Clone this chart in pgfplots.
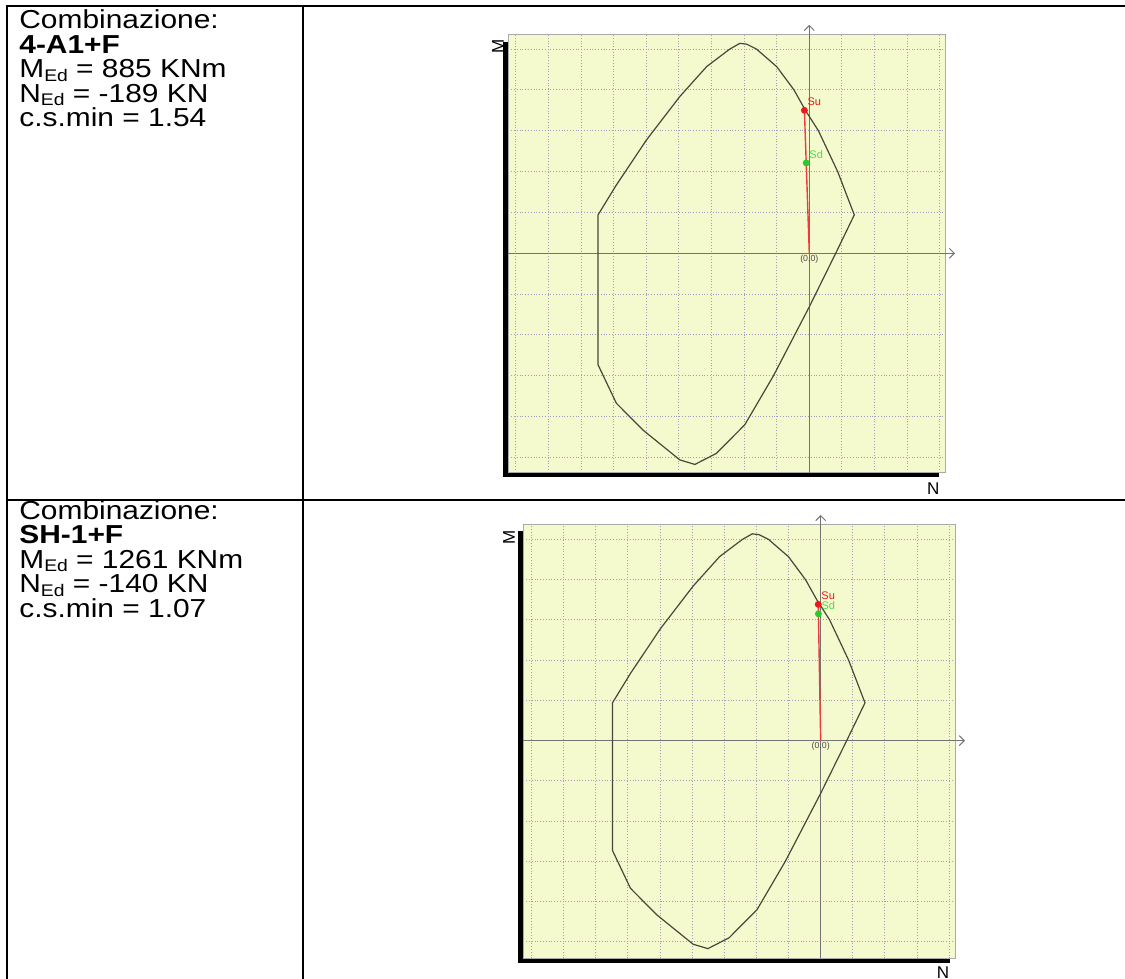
\documentclass[border=0pt]{standalone}
\usepackage{fontspec}
\setmainfont{Liberation Sans}
\newfontfamily\cellfont[FakeStretch=1.15]{Liberation Sans}
\usepackage{pgfplots}
\pgfplotsset{compat=1.18}
\usepackage{pgfplotstable}
\usetikzlibrary{arrows.meta}

\definecolor{panel}{RGB}{245,249,206}
\definecolor{gridc}{RGB}{158,158,190}
\definecolor{framec}{RGB}{170,170,170}
\definecolor{axisc}{RGB}{115,115,115}
\definecolor{outline}{RGB}{72,72,58}
\definecolor{su}{RGB}{235,25,25}
\definecolor{sd}{RGB}{45,200,45}
\definecolor{sdtext}{RGB}{70,225,70}

% Interaction domain of the section (N in kN, M in kNm)
\pgfplotstableread{
N M
-12960 376
-11840 668
-9980 1112
-7940 1536
-6300 1828
-4880 2000
-4260 2056
-3840 2048
-3240 2000
-2000 1828
-940 1600
-240 1400
560 1200
1740 800
2760 376
1620 0
0 -524
-2200 -1200
-3960 -1680
-5700 -1960
-7020 -2068
-7940 -2024
-10200 -1732
-11840 -1468
-12960 -1092
-12960 376
}\domain

\newcommand\sub[1]{\raisebox{-0.12em}{\fontsize{8.4pt}{9pt}\selectfont #1}}

\pgfplotsset{
  mdplot/.style={
    anchor=south west, scale only axis, clip=false,
    xtick={-18000,-16000,...,8000}, ytick={-2000,-1600,...,2000},
    scaled x ticks=false, scaled y ticks=false,
    xticklabels={}, yticklabels={}, major tick length=0pt,
    grid=major, grid style={gridc, densely dotted, line width=0.5pt},
    axis background/.style={fill=panel},
    axis line style={framec, line width=0.5pt},
  },
  domline/.style={outline, line width=0.6pt, mark=none},
  sline/.style={su!85, line width=0.7pt, mark=none},
  spt/.style={only marks, mark=*, mark size=1.5pt, mark options={draw=#1, fill=#1}},
  slabel/.style={nodes near coords={#1},
    every node near coord/.append style={anchor=south west, inner sep=0pt,
      xshift=1.4pt, yshift=2pt, font=\fontsize{5.5pt}{6pt}\selectfont}},
}

\tikzset{
  axarrow/.style={axisc, line width=0.5pt, -{Straight Barb[length=2.5pt,width=5pt]}},
  txt/.style={anchor=base west, inner sep=0pt, font=\cellfont\fontsize{13pt}{15pt}\selectfont},
  lbl/.style={font=\fontsize{8.5pt}{9pt}\selectfont, inner sep=0pt},
  orig/.style={anchor=north, inner sep=0.6pt, text=black!70, font=\fontsize{4.4pt}{5pt}\selectfont},
}

\begin{document}
\begin{tikzpicture}
% table, text and frame decorations, measured in half points
\begin{scope}[x=0.5pt,y=0.5pt]
\draw[line width=1pt] (6.5,0) -- (6.5,973) -- (1125,973);
\draw[line width=1pt] (302.7,0) -- (302.7,973);
\draw[line width=1pt] (6.5,479) -- (1125,479);

\node[txt] at (19,950) {Combinazione:};
\node[txt] at (19,925.5) {\textbf{4-A1+F}};
\node[txt] at (19,901) {M\sub{Ed} = 885 KNm};
\node[txt] at (19,876.5) {N\sub{Ed} = -189 KN};
\node[txt] at (19,852) {c.s.min = 1.54};

\node[txt] at (19,459.5) {Combinazione:};
\node[txt] at (19,435) {\textbf{SH-1+F}};
\node[txt] at (19,410.5) {M\sub{Ed} = 1261 KNm};
\node[txt] at (19,386) {N\sub{Ed} = -140 KN};
\node[txt] at (19,361.5) {c.s.min = 1.07};

\fill (502.7,501.5) rectangle (508.3,937.3);
\fill (502.7,501.5) rectangle (939.3,506.3);
\node[lbl, rotate=90] at (498,932.3) {M};
\node[lbl] at (933.3,490.7) {N};

\fill (518.3,16.3) rectangle (523.3,448.3);
\fill (518.3,16.3) rectangle (950,20.7);
\node[lbl, rotate=90] at (509,441.5) {M};
\node[lbl] at (943,6) {N};
\end{scope}

% combination 4-A1+F
\begin{axis}[mdplot, at={(254.15pt,253.15pt)}, width=218.35pt, height=218.85pt,
  xmin=-18466, xmax=8325, ymin=-2149, ymax=2138]
  \draw[axarrow] (axis cs:-18466,0) -- (axis cs:8939,0);
  \draw[axarrow] (axis cs:0,-2149) -- (axis cs:0,2237);
  \node[orig] at (axis cs:0,0) {(0,0)};
  \addplot[domline] table {\domain};
  \addplot[sline] coordinates {(0,0) (-300,1400)};
  \addplot[spt=sd, slabel=Sd, every node near coord/.append style={text=sdtext}] coordinates {(-189,885)};
  \addplot[spt=su, slabel=Su, every node near coord/.append style={text=su}] coordinates {(-300,1400)};
\end{axis}

% combination SH-1+F
\begin{axis}[mdplot, at={(261.65pt,10.35pt)}, width=215.85pt, height=216.65pt,
  xmin=-18510, xmax=8362, ymin=-2164, ymax=2144]
  \draw[axarrow] (axis cs:-18510,0) -- (axis cs:8984,0);
  \draw[axarrow] (axis cs:0,-2164) -- (axis cs:0,2244);
  \node[orig] at (axis cs:0,0) {(0,0)};
  \addplot[domline] table {\domain};
  \addplot[sline] coordinates {(0,0) (-150,1355)};
  \addplot[spt=sd, slabel=Sd, every node near coord/.append style={text=sdtext}] coordinates {(-140,1261)};
  \addplot[spt=su, slabel=Su, every node near coord/.append style={text=su}] coordinates {(-150,1355)};
\end{axis}

\pgfresetboundingbox
\useasboundingbox (0,0) rectangle (562.5pt,489.5pt);
\end{tikzpicture}
\end{document}
